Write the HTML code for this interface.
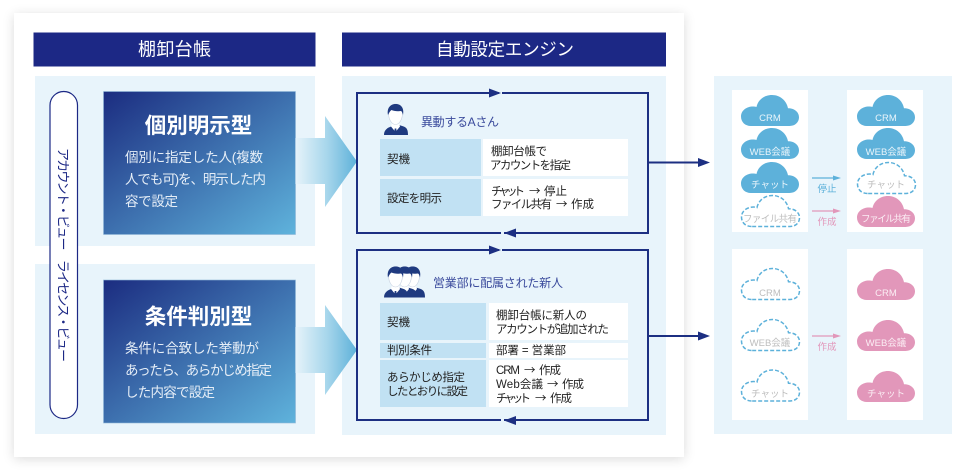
<!DOCTYPE html>
<html lang="ja">
<head>
<meta charset="utf-8">
<style>
html,body{margin:0;padding:0;background:#fff;width:973px;height:475px;overflow:hidden}
svg{display:block}
text{font-family:"Liberation Sans","Noto Sans CJK JP",sans-serif}
.a{font-family:"Noto Sans CJK JP",sans-serif}
</style>
</head>
<body>
<svg width="973" height="475" viewBox="0 0 973 475" xmlns="http://www.w3.org/2000/svg">
<defs>
<filter id="sh" x="-5%" y="-5%" width="110%" height="110%"><feGaussianBlur stdDeviation="6"/></filter>
<linearGradient id="bx" x1="0" y1="0" x2="1" y2="1"><stop offset="0" stop-color="#1b2c80"/><stop offset="1" stop-color="#5fb3dc"/></linearGradient>
<linearGradient id="ar" x1="0" y1="0" x2="1" y2="0"><stop offset="0" stop-color="#e6f3fa"/><stop offset="0.5" stop-color="#a9d7ec"/><stop offset="1" stop-color="#5db1d9"/></linearGradient>
<path id="cl" d="M10 31C4 31 0 27 0 21.500C0 15.500 5.500 11.500 12 11.500C13.300 11.500 14.500 11.700 15.500 12C17 5 23 0 31 0C39 0 45.500 5.500 47 13.200C53.500 13.200 58 17 58 22.300C58 27.500 54 31 48.500 31Z"/>
<g id="person">
<path d="M1 31C1 25.500 5 23.500 9 22.200L12.500 21L16 21L20 22.200C24 23.500 25 26 25 31Z" fill="#1f3a80"/>
<path d="M8 22.500L12.500 28L17 22.500L15.500 17H9.500Z" fill="#fff"/>
<path d="M11.700 24.500h1.600l.6 6.500h-2.800z" fill="#1f3a80"/>
<path d="M5.500 9C5.500 3 8.500 0 12.500 0C17 0 19.500 3 19.500 9C19.500 15 16.500 20.500 12.500 20.500C8.500 20.500 5.500 15 5.500 9Z" fill="#fff" stroke="#c9d3e2" stroke-width=".6"/>
<path d="M5 11C3.500 3.500 8 0 12.700 0C17.500 0 21.500 3.500 20 11C19.500 9 19 7.500 18 7C14.500 7.500 10.500 7 8.500 6C7 7 6 9 5 11Z" fill="#1f3a80"/>
</g>
</defs>

<rect width="973" height="475" fill="#fff"/>
<rect x="14" y="15" width="670" height="444" fill="#000" opacity=".14" filter="url(#sh)"/>
<rect x="14" y="13" width="670" height="444" fill="#fff"/>

<!-- headers -->
<rect x="33.500" y="32.500" width="282" height="34" fill="#1c2885"/>
<rect x="342" y="32.500" width="324" height="34" fill="#1c2885"/>
<text x="174.500" y="55.500" font-size="18" fill="#fff" text-anchor="middle" textLength="73">棚卸台帳</text>
<text x="505" y="55.500" font-size="17.500" fill="#fff" text-anchor="middle" textLength="138">自動設定エンジン</text>

<!-- panels -->
<rect x="35" y="76" width="280" height="170" fill="#e8f4fb"/>
<rect x="35" y="264" width="280" height="170" fill="#e8f4fb"/>
<rect x="342" y="76" width="324" height="359" fill="#e8f4fb"/>
<rect x="714" y="76" width="238" height="358" fill="#e8f4fb"/>

<!-- pill -->
<rect x="50" y="91.500" width="27.500" height="327" rx="13.700" fill="#fff" stroke="#1c2885" stroke-width="1.200"/>
<text transform="translate(58.500,148) rotate(90)" font-size="13" fill="#1c2885" textLength="214">アカウント・ビュー　ライセンス・ビュー</text>

<!-- blue boxes -->
<rect x="103.500" y="91.500" width="192" height="143" fill="url(#bx)" stroke="#8fb6d8" stroke-width=".6"/>
<rect x="103.500" y="280" width="192" height="143" fill="url(#bx)" stroke="#8fb6d8" stroke-width=".6"/>
<text x="198.500" y="133" font-size="21.500" font-weight="700" fill="#fff" text-anchor="middle">個別明示型</text>
<g font-size="13.500" fill="#e6eef7">
<text x="125" y="162" textLength="138">個別に指定した人(複数</text>
<text x="125" y="184" textLength="141">人でも可)を、明示した内</text>
<text x="125" y="206" textLength="53">容で設定</text>
</g>
<text x="198.500" y="324" font-size="21.500" font-weight="700" fill="#fff" text-anchor="middle">条件判別型</text>
<g font-size="13.500" fill="#e6eef7">
<text x="125" y="353" textLength="134">条件に合致した挙動が</text>
<text x="125" y="375" textLength="147">あったら、あらかじめ指定</text>
<text x="125" y="397" textLength="90">した内容で設定</text>
</g>

<!-- big arrows -->
<path d="M295.500 138H325V116L357 161.500L325 207V184H295.500Z" fill="url(#ar)"/>
<path d="M295.500 327H325V305L357 350L325 395V373H295.500Z" fill="url(#ar)"/>

<!-- box A -->
<rect x="357" y="93" width="291" height="140" fill="none" stroke="#1c2f82" stroke-width="2"/>
<rect x="499" y="90" width="3" height="6" fill="#e8f4fb"/>
<path d="M489 88.500L501 93L489 97.500Z" fill="#1c2f82"/>
<rect x="501" y="230" width="3" height="6" fill="#e8f4fb"/>
<path d="M516 228.500L504 233L516 237.500Z" fill="#1c2f82"/>
<path d="M648 162.500H700" stroke="#1c2f82" stroke-width="2"/>
<path d="M698 158L710 162.500L698 167Z" fill="#1c2f82"/>
<use href="#person" x="383" y="104"/>
<text x="421" y="126" font-size="12" fill="#3a4a9c" textLength="78">異動するAさん</text>
<rect x="380" y="139" width="101" height="37" fill="#c1e1f3"/>
<rect x="483" y="139" width="145" height="37" fill="#fff"/>
<rect x="380" y="179" width="101" height="37" fill="#c1e1f3"/>
<rect x="483" y="179" width="145" height="37" fill="#fff"/>
<g font-size="11.500" fill="#222">
<text x="387" y="163" textLength="23">契機</text>
<text x="387" y="202" textLength="55">設定を明示</text>
<text x="491" y="155" textLength="56">棚卸台帳で</text>
<text x="490" y="169" textLength="81">アカウントを指定</text>
<text x="491" y="195" textLength="34">チャット</text><text class="a" x="529" y="195">→</text><text x="544" y="195" textLength="23">停止</text>
<text x="491" y="208" textLength="61">ファイル共有</text><text class="a" x="556" y="208">→</text><text x="571" y="208" textLength="23">作成</text>
</g>

<!-- box B -->
<rect x="357" y="250" width="291" height="170" fill="none" stroke="#1c2f82" stroke-width="2"/>
<rect x="499" y="247" width="3" height="6" fill="#e8f4fb"/>
<path d="M489 245.500L501 250L489 254.500Z" fill="#1c2f82"/>
<rect x="501" y="417" width="3" height="6" fill="#e8f4fb"/>
<path d="M516 416L504 420.500L516 425Z" fill="#1c2f82"/>
<path d="M648 336H700" stroke="#1c2f82" stroke-width="2"/>
<path d="M698 331.500L710 336L698 340.500Z" fill="#1c2f82"/>
<use href="#person" x="400" y="266.500"/>
<use href="#person" x="392" y="266.500"/>
<use href="#person" x="383" y="266.500"/>
<text x="433" y="287" font-size="12" fill="#3a4a9c" textLength="130">営業部に配属された新人</text>
<rect x="380" y="303" width="106" height="37" fill="#c1e1f3"/>
<rect x="489" y="303" width="139" height="37" fill="#fff"/>
<rect x="380" y="343" width="106" height="15" fill="#c1e1f3"/>
<rect x="489" y="343" width="139" height="15" fill="#fff"/>
<rect x="380" y="360" width="106" height="47" fill="#c1e1f3"/>
<rect x="489" y="360" width="139" height="47" fill="#fff"/>
<g font-size="11.500" fill="#222">
<text x="387" y="326" textLength="23">契機</text>
<text x="387" y="354" textLength="45">判別条件</text>
<text x="387" y="381" textLength="78">あらかじめ指定</text>
<text x="387" y="395" textLength="81">したとおりに設定</text>
<text x="496" y="319" textLength="91">棚卸台帳に新人の</text>
<text x="496" y="333" textLength="113">アカウントが追加された</text>
<text x="496" y="354" textLength="70">部署 = 営業部</text>
<text x="496" y="374" textLength="24">CRM</text><text class="a" x="524" y="374">→</text><text x="539" y="374" textLength="22">作成</text>
<text x="496" y="388" textLength="47">Web会議</text><text class="a" x="547" y="388">→</text><text x="562" y="388" textLength="22">作成</text>
<text x="496" y="402" textLength="35">チャット</text><text class="a" x="535" y="402">→</text><text x="550" y="402" textLength="22">作成</text>
</g>

<!-- white columns -->
<rect x="732" y="90" width="76" height="142" fill="#fff"/>
<rect x="847" y="90" width="76" height="142" fill="#fff"/>
<rect x="732" y="249" width="76" height="171" fill="#fff"/>
<rect x="847" y="249" width="76" height="171" fill="#fff"/>

<!-- clouds -->
<g fill="#5db1da">
<use href="#cl" x="741" y="95"/><use href="#cl" x="741" y="128"/><use href="#cl" x="741" y="162"/>
<use href="#cl" x="857" y="95"/><use href="#cl" x="857" y="128"/>
</g>
<g fill="#fff" stroke="#5db1da" stroke-width="1.500" stroke-dasharray="4 2">
<use href="#cl" x="741.500" y="195.500"/><use href="#cl" x="857.500" y="162.500"/>
<use href="#cl" x="741.500" y="268.500"/><use href="#cl" x="741.500" y="319.500"/><use href="#cl" x="741.500" y="370"/>
</g>
<g fill="#e297ba">
<use href="#cl" x="857" y="196"/>
<use href="#cl" x="857" y="269"/><use href="#cl" x="857" y="320"/><use href="#cl" x="857" y="371"/>
</g>

<g font-size="9.500" text-anchor="middle">
<g fill="#eaf5fb">
<text x="770" y="121">CRM</text>
<text x="770" y="155">WEB会議</text>
<text x="770" y="188">チャット</text>
<text x="886" y="121">CRM</text>
<text x="886" y="155">WEB会議</text>
</g>
<g fill="#bdbdbd">
<text x="770" y="222" textLength="54">ファイル共有</text>
<text x="886" y="188">チャット</text>
<text x="770" y="296">CRM</text>
<text x="770" y="346">WEB会議</text>
<text x="770" y="397">チャット</text>
</g>
<g fill="#fbeef4">
<text x="886" y="222" textLength="50">ファイル共有</text>
<text x="886" y="296">CRM</text>
<text x="886" y="346">WEB会議</text>
<text x="886" y="397">チャット</text>
</g>
<text x="827" y="192" fill="#5db1da">停止</text>
<text x="827" y="225" fill="#e297ba">作成</text>
<text x="827" y="350" fill="#e297ba">作成</text>
</g>

<!-- small arrows -->
<path d="M812 178H835" stroke="#5db1da" stroke-width="1.300"/><path d="M833 175.500L841 178L833 180.500Z" fill="#5db1da"/>
<path d="M812 211H835" stroke="#e297ba" stroke-width="1.300"/><path d="M833 208.500L841 211L833 213.500Z" fill="#e297ba"/>
<path d="M812 336H835" stroke="#e297ba" stroke-width="1.300"/><path d="M833 333.500L841 336L833 338.500Z" fill="#e297ba"/>
</svg>
</body>
</html>
